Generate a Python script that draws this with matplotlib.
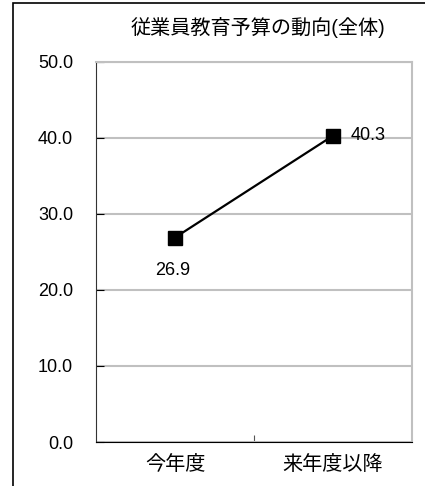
import matplotlib.pyplot as plt
from matplotlib.patches import Rectangle

# data
categories = ['今年度', '来年度以降']
values = [26.9, 40.3]
yticks = [0, 10, 20, 30, 40, 50]
title = '従業員教育予算の動向(全体)'

plt.rcParams['font.family'] = ['Liberation Sans', 'Noto Sans CJK JP', 'DejaVu Sans']

fig = plt.figure(figsize=(4.25, 4.86), dpi=100)
W, H = 425, 486
# plot area in pixels: left 96, right 412, top 62, bottom 442
ax = fig.add_axes([96 / W, 1 - 442 / H, (412 - 96) / W, (442 - 62) / H])

x = [0.5, 1.5]
ax.plot(x, values, color='black', lw=1.6, marker='s', markersize=9.5, zorder=3)

ax.set_xlim(0, 2)
ax.set_ylim(0, 50)
ax.set_yticks(yticks)
ax.set_yticklabels([f'{v:.1f}' for v in yticks], fontsize=13)
ax.yaxis.grid(True, color='#c0c0c0', lw=1.5)
ax.set_axisbelow(True)

ax.set_xticks([1])
ax.set_xticklabels([''])
ax.set_xticks(x, minor=True)
ax.set_xticklabels(categories, minor=True, fontsize=14.5)
ax.tick_params(axis='x', which='minor', length=0, pad=9)
ax.tick_params(axis='x', which='major', direction='in', length=5, color='#555555')
ax.tick_params(axis='y', direction='in', length=6, pad=16.5)

ax.spines['top'].set_color('#c0c0c0')
ax.spines['right'].set_color('#c0c0c0')
ax.spines['top'].set_linewidth(1.5)
ax.spines['right'].set_linewidth(1.5)
ax.spines['left'].set_color('#333333')
ax.spines['bottom'].set_color('black')

# data labels
ax.annotate(f'{values[0]:.1f}', (x[0], values[0]), xytext=(-2, -23.5),
            textcoords='offset points', ha='center', va='center', fontsize=13)
ax.annotate(f'{values[1]:.1f}', (x[1], values[1]), xytext=(13, 0),
            textcoords='offset points', ha='left', va='center', fontsize=13)

fig.text(258 / W, 1 - 27 / H, title, ha='center', va='center', fontsize=14.5)

# outer frame (cropped on the right and bottom)
fig.patches.append(Rectangle((13 / W, -0.1), 1.2, 1 - 3 / H + 0.1, transform=fig.transFigure,
                             fill=False, edgecolor='black', lw=1.2))

fig.savefig('out.png', dpi=100)
